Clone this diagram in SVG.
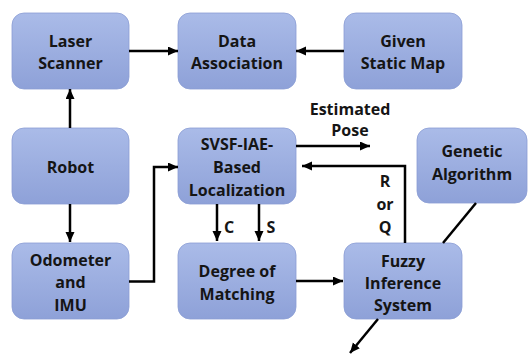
<svg xmlns="http://www.w3.org/2000/svg" width="528" height="354" viewBox="0 0 528 354">
<defs>
<linearGradient id="g" x1="0" y1="0" x2="0" y2="1">
<stop offset="0" stop-color="#aabbe8"/>
<stop offset="1" stop-color="#8ea1d8"/>
</linearGradient>
<marker id="ah" markerUnits="userSpaceOnUse" markerWidth="11" markerHeight="10" refX="10" refY="4.5" orient="auto" viewBox="0 0 11 10">
<path d="M0,0 L10,4.5 L0,9 z" fill="#000"/>
</marker>
<style>
.box{fill:url(#g);stroke:#8a9dd4;stroke-width:0.8}
text{font-family:"Open Sans","Liberation Sans",sans-serif;font-weight:bold;font-size:16px;fill:#151515;text-anchor:middle}
.c{fill:none;stroke:#000;stroke-width:2.5}
.a{marker-end:url(#ah)}
</style>
</defs>
<g id="laser"><rect class="box" x="12" y="13" width="117" height="76" rx="12"/><text x="70.5" y="47">Laser</text><text x="70.5" y="69">Scanner</text></g>
<g id="data"><rect class="box" x="178" y="13" width="118" height="76" rx="12"/><text x="237" y="47">Data</text><text x="237" y="69">Association</text></g>
<g id="map"><rect class="box" x="344" y="13" width="118" height="76" rx="12"/><text x="403" y="47">Given</text><text x="403" y="69">Static Map</text></g>
<g id="robot"><rect class="box" x="12" y="128" width="117" height="76" rx="12"/><text x="70.5" y="172.5">Robot</text></g>
<g id="svsf"><rect class="box" x="178" y="128" width="118" height="76" rx="12"/><text x="237" y="149.5">SVSF-IAE-</text><text x="237" y="172.5">Based</text><text x="237" y="195.5">Localization</text></g>
<g id="ga"><rect class="box" x="417" y="128" width="110" height="75" rx="12"/><text x="472" y="157">Genetic</text><text x="472" y="180">Algorithm</text></g>
<g id="odo"><rect class="box" x="12" y="243" width="117" height="76" rx="12"/><text x="70.5" y="265.5">Odometer</text><text x="70.5" y="288">and</text><text x="70.5" y="310.5">IMU</text></g>
<g id="dom"><rect class="box" x="178" y="243" width="118" height="76" rx="12"/><text x="237" y="277">Degree of</text><text x="237" y="300">Matching</text></g>
<g id="fis"><rect class="box" x="344" y="243" width="118" height="76" rx="12"/><text x="403" y="266.5">Fuzzy</text><text x="403" y="288.5">Inference</text><text x="403" y="310.5">System</text></g>
<g id="connectors">
<path class="c a" d="M129,51 H178"/>
<path class="c a" d="M344,51 H296"/>
<path class="c a" d="M70,128 V89"/>
<path class="c a" d="M70,204 V242"/>
<path class="c a" d="M129,281.5 H154 V167 H178"/>
<path class="c a" d="M296,146 H370"/>
<path class="c a" d="M405,243 V166 H302"/>
<path class="c a" d="M217,204 V241"/>
<path class="c a" d="M259,204 V241"/>
<path class="c a" d="M296,281 H343"/>
<path class="c" d="M476,203 L443,243"/>
<path class="c a" d="M378,319 L350,353"/>
<text x="350" y="115">Estimated</text>
<text x="350" y="135.5">Pose</text>
<text x="385" y="187">R</text>
<text x="385" y="210">or</text>
<text x="385" y="233">Q</text>
<text x="229" y="233">C</text>
<text x="271" y="233">S</text>
</g>
</svg>
